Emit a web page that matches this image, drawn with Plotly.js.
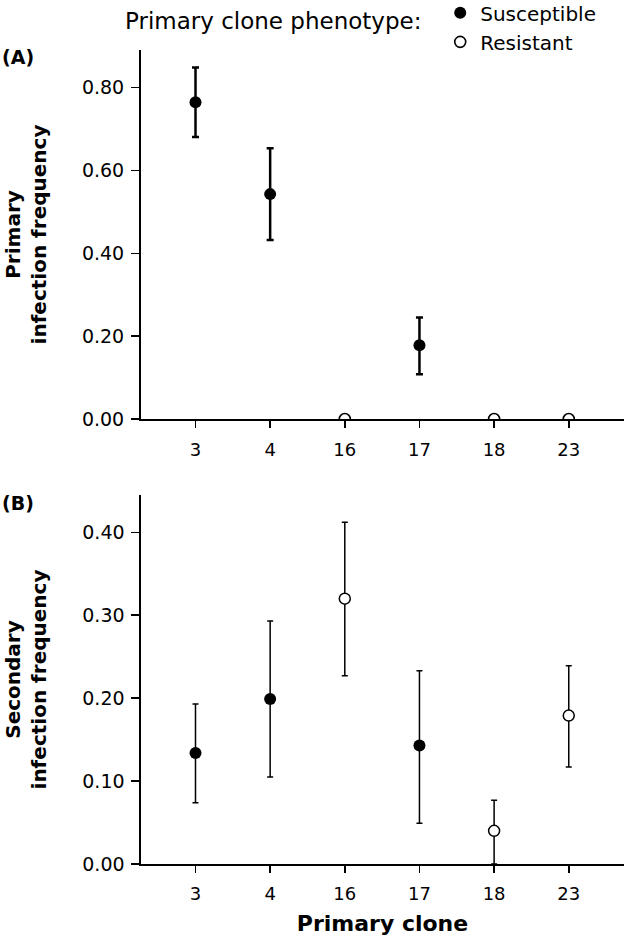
<!DOCTYPE html>
<html>
<head>
<meta charset="utf-8">
<script src="https://cdn.plot.ly/plotly-3.0.1.min.js"></script>
<style>html,body{margin:0;padding:0;background:#fff;}#chart{width:625px;height:936px;}</style>
</head>
<body>
<div id="chart"></div>
<script>
// ---- data ----
var categories = ["3", "4", "16", "17", "18", "23"];
var phenotype = ["Susceptible", "Susceptible", "Resistant", "Susceptible", "Resistant", "Resistant"];
var primaryFreq = [0.765, 0.543, 0, 0.178, 0, 0];
var primaryErrPlus = [0.084, 0.111, 0, 0.067, 0, 0];
var primaryErrMinus = [0.084, 0.111, 0, 0.070, 0, 0];
var secondaryFreq = [0.134, 0.199, 0.320, 0.143, 0.040, 0.179];
var secondaryErrPlus = [0.059, 0.094, 0.092, 0.090, 0.037, 0.060];
var secondaryErrMinus = [0.060, 0.094, 0.093, 0.094, 0.040, 0.062];
var yTicksA = [0, 0.2, 0.4, 0.6, 0.8];
var yTickTextA = ["0.00", "0.20", "0.40", "0.60", "0.80"];
var yTicksB = [0, 0.1, 0.2, 0.3, 0.4];
var yTickTextB = ["0.00", "0.10", "0.20", "0.30", "0.40"];

function pick(arr, ph) { return arr.filter(function (v, i) { return phenotype[i] === ph; }); }

var FONT = "DejaVu Sans, Verdana, sans-serif";
var filledMarkerA = {symbol: "circle", size: 12, color: "#000", line: {color: "#000", width: 0}};
var openMarkerA = {symbol: "circle", size: 11, color: "#fff", line: {color: "#000", width: 1.6}};
var filledMarkerB = {symbol: "circle", size: 12, color: "#000", line: {color: "#000", width: 0}};
var openMarkerB = {symbol: "circle", size: 11, color: "#fff", line: {color: "#000", width: 1.5}};

var traces = [
  {
    type: "scatter", mode: "markers", name: "Susceptible", legendrank: 1,
    x: pick(categories, "Susceptible"), y: pick(primaryFreq, "Susceptible"),
    xaxis: "x", yaxis: "y", marker: filledMarkerA, cliponaxis: true,
    error_y: {type: "data", symmetric: false, array: pick(primaryErrPlus, "Susceptible"),
      arrayminus: pick(primaryErrMinus, "Susceptible"), color: "#000", thickness: 2.5, width: 3.5}
  },
  {
    type: "scatter", mode: "markers", name: "Resistant", legendrank: 2,
    x: pick(categories, "Resistant"), y: pick(primaryFreq, "Resistant"),
    xaxis: "x", yaxis: "y", marker: openMarkerA, cliponaxis: true
  },
  {
    type: "scatter", mode: "markers", name: "Susceptible", showlegend: false,
    x: pick(categories, "Susceptible"), y: pick(secondaryFreq, "Susceptible"),
    xaxis: "x2", yaxis: "y2", marker: filledMarkerB,
    error_y: {type: "data", symmetric: false, array: pick(secondaryErrPlus, "Susceptible"),
      arrayminus: pick(secondaryErrMinus, "Susceptible"), color: "#000", thickness: 1.5, width: 3}
  },
  {
    type: "scatter", mode: "markers", name: "Resistant", showlegend: false,
    x: pick(categories, "Resistant"), y: pick(secondaryFreq, "Resistant"),
    xaxis: "x2", yaxis: "y2", marker: openMarkerB,
    error_y: {type: "data", symmetric: false, array: pick(secondaryErrPlus, "Resistant"),
      arrayminus: pick(secondaryErrMinus, "Resistant"), color: "#000", thickness: 1.5, width: 3}
  }
];

function xAxis(anchor, lw) {
  return {
    anchor: anchor, type: "category", categoryorder: "array", categoryarray: categories,
    range: [-0.73, 5.74], showline: true, linecolor: "#000", linewidth: lw,
    showgrid: false, zeroline: false, ticks: "outside", ticklen: 7, tickwidth: 1.5, tickcolor: "#000",
    tickfont: {family: FONT, size: 18, color: "#000"}, ticklabelstandoff: 6, fixedrange: true,
    automargin: false
  };
}
function yAxis(anchor, domain, range, vals, text, title, lw) {
  return {
    anchor: anchor, domain: domain, range: range, showline: true, linecolor: "#000", linewidth: lw,
    showgrid: false, zeroline: false, ticks: "outside", ticklen: 8, tickwidth: 1.5, tickcolor: "#000",
    tickvals: vals, ticktext: text, tickfont: {family: FONT, size: 19, color: "#000"},
    ticklabelstandoff: 3, automargin: false,
    title: {text: title, font: {family: FONT, size: 20, color: "#000", weight: "bold"}, standoff: 30},
    fixedrange: true
  };
}

var xa = xAxis("y", 2);
var xb = xAxis("y2", 1.6);
xb.title = {text: "Primary clone", font: {family: FONT, size: 22, color: "#000", weight: "bold"}, standoff: 12};

var layout = {
  width: 625, height: 936,
  margin: {l: 141, r: 1, t: 50, b: 72, pad: 0, autoexpand: false},
  paper_bgcolor: "#fff", plot_bgcolor: "#fff",
  font: {family: FONT, color: "#000"},
  showlegend: true,
  legend: {
    x: 0.6195, xanchor: "left", y: 1.0696, yanchor: "top",
    font: {family: FONT, size: 20, color: "#000"}, bgcolor: "rgba(0,0,0,0)",
    borderwidth: 0, tracegroupgap: 0, itemsizing: "trace"
  },
  xaxis: xa,
  yaxis: yAxis("x", [0.5467, 1], [0, 0.891], yTicksA, yTickTextA, "Primary<br>infection frequency", 2),
  xaxis2: xb,
  yaxis2: yAxis("x2", [0, 0.4533], [0, 0.445], yTicksB, yTickTextB, "Secondary<br>infection frequency", 1.6),
  annotations: [
    {text: "Primary clone phenotype:", xref: "paper", yref: "paper", x: -0.037, y: 1.0356,
      xanchor: "left", yanchor: "middle", showarrow: false, font: {family: FONT, size: 23, color: "#000"}},
    {text: "(A)", xref: "paper", yref: "paper", x: -0.292, y: 0.992, xanchor: "left", yanchor: "middle",
      showarrow: false, font: {family: FONT, size: 19, color: "#000", weight: "bold"}},
    {text: "(B)", xref: "paper", yref: "paper", x: -0.292, y: 0.4435, xanchor: "left", yanchor: "middle",
      showarrow: false, font: {family: FONT, size: 19, color: "#000", weight: "bold"}}
  ]
};

Plotly.newPlot("chart", traces, layout, {displayModeBar: false, staticPlot: true});
</script>
</body>
</html>
